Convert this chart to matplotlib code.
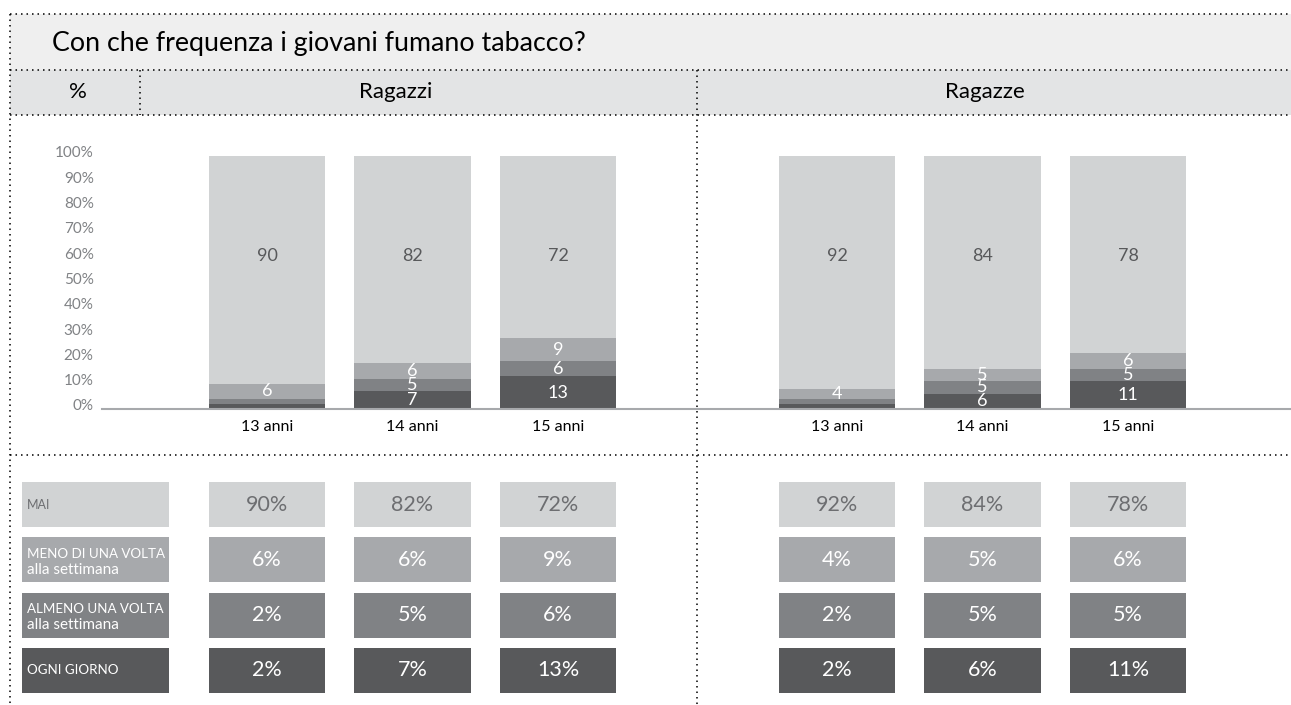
import matplotlib
matplotlib.use("Agg")
import matplotlib.pyplot as plt
import matplotlib.transforms as mtransforms

plt.rcParams['font.family'] = ['Lato', 'DejaVu Sans']

# data
ages = ['13 anni', '14 anni', '15 anni']
freq_labels = ['MAI', 'MENO DI UNA VOLTA\nalla settimana',
               'ALMENO UNA VOLTA\nalla settimana', 'OGNI GIORNO']
ragazzi_mai = [90, 82, 72]
ragazzi_meno = [6, 6, 9]
ragazzi_almeno = [2, 5, 6]
ragazzi_ogni = [2, 7, 13]
ragazze_mai = [92, 84, 78]
ragazze_meno = [4, 5, 6]
ragazze_almeno = [2, 5, 5]
ragazze_ogni = [2, 6, 11]
yticks = [0, 10, 20, 30, 40, 50, 60, 70, 80, 90, 100]

colors = ['#d1d3d4', '#a7a9ac', '#808285', '#58595b']  # mai, meno, almeno, ogni
text_dark = '#6d6e71'

W, H = 1291, 705
fig = plt.figure(figsize=(W / 100, H / 100), dpi=100)


def px_axes(x0, y0, x1, y1):
    return fig.add_axes([x0 / W, 1 - y1 / H, (x1 - x0) / W, (y1 - y0) / H])


# background / header in pixel coords
bg = px_axes(0, 0, W, H)
bg.set_xlim(0, W)
bg.set_ylim(H, 0)
bg.axis('off')
bg.fill_between([10, W], 14, 70, color='#efefef', lw=0)
bg.fill_between([10, W], 70, 115, color='#e3e4e5', lw=0)
dot = dict(color='black', lw=1.1, linestyle=(0, (1, 2.6)))
for yy in [14, 70, 115]:
    bg.plot([10, W], [yy, yy], **dot)
bg.plot([10, W], [455, 455], **dot)
bg.plot([10, 10], [14, H], **dot)
bg.plot([140, 140], [70, 115], **dot)
bg.plot([697, 697], [70, H], **dot)
bg.text(52, 44, 'Con che frequenza i giovani fumano tabacco?', fontsize=19.3,
        va='center', ha='left', color='black')
bg.text(78, 92, '%', fontsize=16, va='center', ha='center')
bg.text(396, 92, 'Ragazzi', fontsize=16, va='center', ha='center')
bg.text(985, 92, 'Ragazze', fontsize=16, va='center', ha='center')

unit = 145.5
panels = [
    ('left', 102, 267, [ragazzi_ogni, ragazzi_almeno, ragazzi_meno, ragazzi_mai]),
    ('right', 697, 837, [ragazze_ogni, ragazze_almeno, ragazze_meno, ragazze_mai]),
]

for side, x_left, x_first, series in panels:
    x_right = 697 if side == 'left' else W
    ax = px_axes(x_left, 156, x_right, 409)
    ax.set_xlim((x_left - x_first) / unit, (x_right - x_first) / unit)
    ax.set_ylim(0, 100)
    xs = list(range(len(ages)))
    bottom = [0] * len(ages)
    stack_colors = [colors[3], colors[2], colors[1], colors[0]]
    for k, (vals, col) in enumerate(zip(series, stack_colors)):
        ax.bar(xs, vals, width=0.8, bottom=bottom, color=col, lw=0)
        for i, v in enumerate(vals):
            if k == 3:
                ax.text(xs[i], 60.5, str(v), ha='center', va='center',
                        fontsize=13, color=colors[3])
            elif v > 2:
                ax.text(xs[i], bottom[i] + v / 2, str(v), ha='center',
                        va='center', fontsize=13, color='white')
        bottom = [b + v for b, v in zip(bottom, vals)]
    for s in ['top', 'right', 'left']:
        ax.spines[s].set_visible(False)
    ax.spines['bottom'].set_color('#a7a9ac')
    ax.spines['bottom'].set_linewidth(1.5)
    ax.set_xticks(xs)
    ax.set_xticklabels(ages, fontsize=11.5, color='black')
    ax.tick_params(axis='x', length=0, pad=8)
    if side == 'left':
        ax.set_yticks(yticks)
        ax.set_yticklabels([f'{t}%' for t in yticks], fontsize=11,
                           color='#808285')
        ax.tick_params(axis='y', length=0, pad=6)
        off = mtransforms.ScaledTranslation(0, 4 / 100, fig.dpi_scale_trans)
        for lab in ax.get_yticklabels():
            lab.set_transform(lab.get_transform() + off)
    else:
        ax.set_yticks([])
    ax.patch.set_alpha(0)

    # table below
    tx_left = 10 if side == 'left' else 697
    tab = px_axes(tx_left, 477, x_right, 698)
    tab.set_xlim((tx_left - x_first) / unit, (x_right - x_first) / unit)
    tab.set_ylim(3.5, -0.5)
    tab.axis('off')
    rows = [series[3], series[2], series[1], series[0]]
    rh = 0.81
    for r, vals in enumerate(rows):
        tcol = text_dark if r == 0 else 'white'
        tab.bar(xs, [rh] * 3, bottom=r - rh / 2, width=0.8, color=colors[r], lw=0)
        for i, v in enumerate(vals):
            tab.text(xs[i], r, f'{v}%', ha='center', va='center',
                     fontsize=15.5, color=tcol)
        if side == 'left':
            lx = (95.5 - x_first) / unit
            tx = (27 - x_first) / unit
            tab.bar([lx], [rh], bottom=r - rh / 2, width=147 / unit,
                    color=colors[r], lw=0)
            parts = freq_labels[r].split('\n')
            if len(parts) == 1:
                tab.text(tx, r, parts[0], ha='left', va='center',
                         fontsize=9 if r == 0 else 9.6, color=tcol)
            else:
                tab.text(tx, r - 0.11, parts[0], ha='left', va='center',
                         fontsize=9.6, color=tcol)
                tab.text(tx, r + 0.18, parts[1], ha='left', va='center',
                         fontsize=11, color=tcol)

fig.savefig('out.png', dpi=100)
